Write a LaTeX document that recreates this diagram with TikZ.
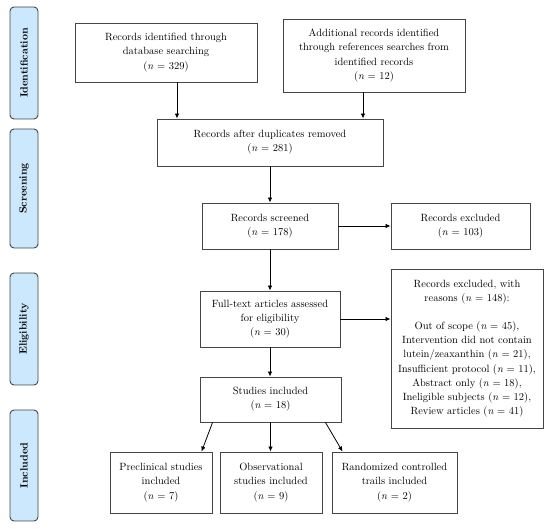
\documentclass[tikz,border=0pt]{standalone}
\usetikzlibrary{arrows.meta}
\definecolor{sidefill}{RGB}{204,232,252}
\definecolor{linec}{RGB}{70,70,70}
\begin{document}
\begin{tikzpicture}[x=1pt,y=-1pt,
  every node/.style={font=\fontsize{10.5}{14.2}\selectfont},
  box/.style={draw=linec,line width=0.9pt,align=center,inner sep=2pt,fill=white},
  side/.style={draw=linec,line width=0.9pt,fill=sidefill,rounded corners=4pt,minimum height=28pt,rotate=90,font=\fontsize{10.5}{12}\selectfont\bfseries},
  arr/.style={draw=black,line width=0.8pt,-{Latex[length=5pt,width=4.5pt]}}]
\useasboundingbox (0,0) rectangle (550,529);
% side labels
\node[side,minimum width=112pt] (s1) at (24,63) {Identification};
\node[side,minimum width=119pt] (s2) at (24,188.5) {Screening};
\node[side,minimum width=112pt] (s3) at (24,329) {Eligibility};
\node[side,minimum width=111pt] (s4) at (24,465.5) {Included};
% boxes
\node[box,minimum width=182pt,minimum height=59pt] (b1) at (166,52.5) {Records identified through\\database searching\\(\textit{n} = 329)};
\node[box,minimum width=182pt,minimum height=73pt] (b2) at (374,55.5) {Additional records identified\\through references searches from\\identified records\\(\textit{n} = 12)};
\node[box,minimum width=226pt,minimum height=47pt] (b3) at (270,142.5) {Records after duplicates removed\\(\textit{n} = 281)};
\node[box,minimum width=136pt,minimum height=46pt] (b4) at (270,226) {Records screened\\(\textit{n} = 178)};
\node[box,minimum width=139pt,minimum height=46pt] (b5) at (460.5,226) {Records excluded\\(\textit{n} = 103)};
\node[box,minimum width=140pt,minimum height=56pt] (b6) at (270,319) {Full-text articles assessed\\for eligibility\\(\textit{n} = 30)};
\node[box,minimum width=152pt,minimum height=159pt] (b7) at (467,348.5) {Records excluded, with\\reasons (\textit{n} = 148):\\[14pt]Out of scope (\textit{n} = 45),\\Intervention did not contain\\lutein/zeaxanthin (\textit{n} = 21),\\Insufficient protocol (\textit{n} = 11),\\Abstract only (\textit{n} = 18),\\Ineligible subjects (\textit{n} = 12),\\Review articles (\textit{n} = 41)};
\node[box,minimum width=141pt,minimum height=45pt] (b8) at (270.5,399.5) {Studies included\\(\textit{n} = 18)};
\node[box,minimum width=102pt,minimum height=61pt] (b9) at (161,482.5) {Preclinical studies\\included\\(\textit{n} = 7)};
\node[box,minimum width=102pt,minimum height=61pt] (b10) at (271,482.5) {Observational\\studies included\\(\textit{n} = 9)};
\node[box,minimum width=125pt,minimum height=61pt] (b11) at (394.5,482.5) {Randomized controlled\\trails included\\(\textit{n} = 2)};
% arrows
\draw[arr] ([xshift=11pt]b1.south) -- ([xshift=11pt]b1.south |- b3.north);
\draw[arr] ([xshift=-11pt]b2.south) -- ([xshift=-11pt]b2.south |- b3.north);
\draw[arr] (b3.south) -- (b3.south |- b4.north);
\draw[arr] (b4.east) -- (b4.east -| b5.west);
\draw[arr] (b4.south) -- (b4.south |- b6.north);
\draw[arr] (b6.east) -- (b6.east -| b7.west);
\draw[arr] (b6.south) -- (b6.south |- b8.north);
\draw[arr] ([xshift=13pt]b8.south west) -- ([xshift=92pt]b9.north west);
\draw[arr] (b8.south) -- (b8.south |- b10.north);
\draw[arr] ([xshift=-16pt]b8.south east) -- ([xshift=11pt]b11.north west);
\end{tikzpicture}
\end{document}
